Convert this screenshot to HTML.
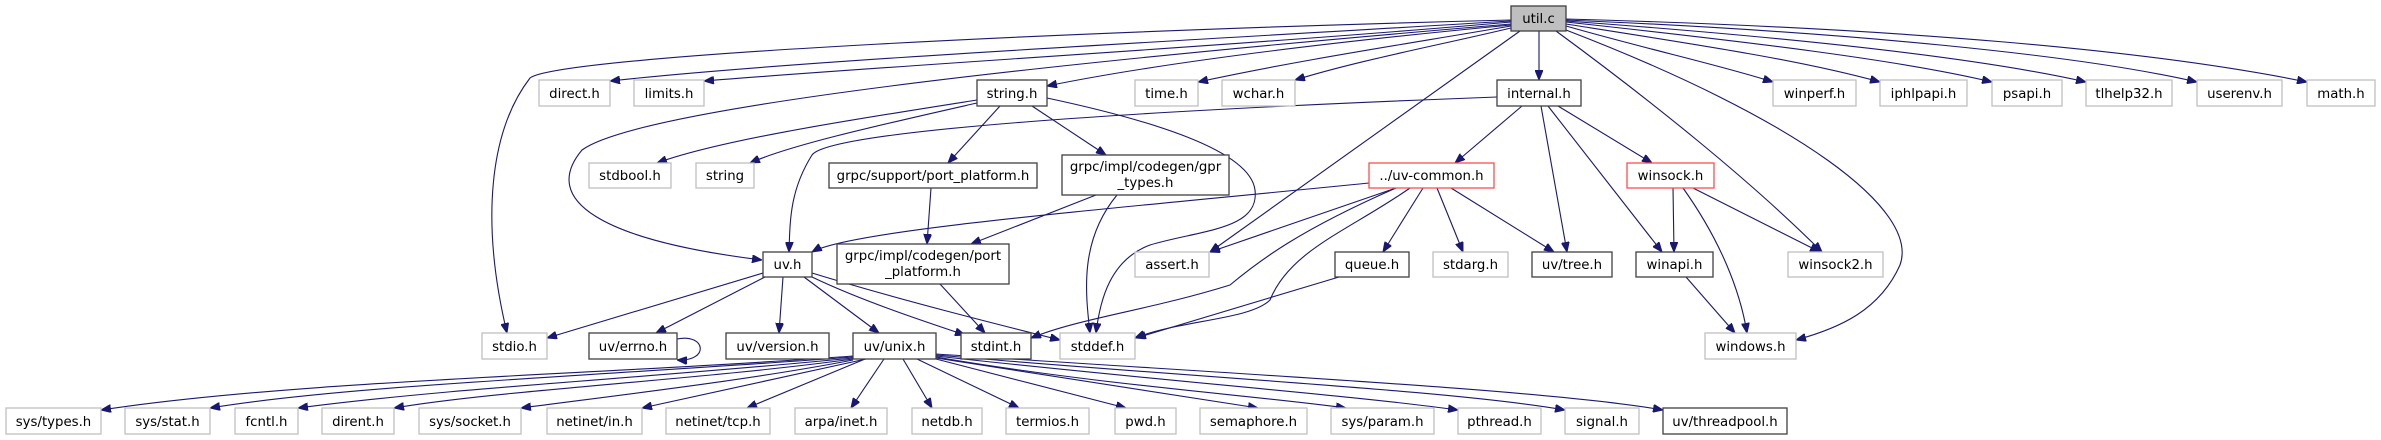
<!DOCTYPE html>
<html><head><meta charset="utf-8"><style>
html,body{margin:0;padding:0;background:#fff;}
svg{display:block;}
text{font-family:"DejaVu Sans","Liberation Sans",sans-serif;font-size:13.3px;fill:#000;text-anchor:middle;}
.g{fill:#fff;stroke:#bfbfbf;stroke-width:1.3;}
.b{fill:#fff;stroke:#404040;stroke-width:1.3;}
.r{fill:#fff;stroke:#ff4d4d;stroke-width:1.3;}
.u{fill:#bfbfbf;stroke:#404040;stroke-width:1.3;}
path{fill:none;stroke:#191970;stroke-width:1.1;}
</style></head><body>
<svg width="2381" height="440" viewBox="0 0 2381 440" xmlns="http://www.w3.org/2000/svg">
<defs><marker id="a" viewBox="0 0 10 8" refX="10" refY="4" markerWidth="10" markerHeight="8" markerUnits="userSpaceOnUse" orient="auto"><path d="M0,0 L10,4 L0,8 Z" style="fill:#191970;stroke:#191970;stroke-width:1"/></marker></defs>
<g marker-end="url(#a)">
<path d="M1511,20 C1100,30 560,55 530,78 C490,130 480,220 507,333"/>
<path d="M1511,21 C1200,40 800,60 610,81"/>
<path d="M1511,22 C1250,45 900,65 704,81"/>
<path d="M1511,24 C1200,50 650,100 582,150 C540,200 600,240 762,260"/>
<path d="M1511,25 C1300,45 1150,65 1047,86"/>
<path d="M1511,26 C1400,45 1300,60 1198,82"/>
<path d="M1511,28 C1440,45 1360,60 1295,80"/>
<path d="M1539,31 L1539,80"/>
<path d="M1520,31 L1210,252"/>
<path d="M1556,31 C1650,100 1750,180 1822,252"/>
<path d="M1566,30 C1800,120 1920,210 1900,265 C1880,310 1840,328 1796,340"/>
<path d="M1566,26 C1650,50 1720,65 1773,82"/>
<path d="M1566,24 C1700,45 1800,60 1880,82"/>
<path d="M1566,22 C1750,42 1900,60 1992,82"/>
<path d="M1566,21 C1800,38 1980,58 2086,82"/>
<path d="M1566,20 C1850,32 2080,55 2197,82"/>
<path d="M1566,19 C1900,28 2150,50 2307,82"/>
<path d="M977,100 C850,120 720,140 657,163"/>
<path d="M977,103 C880,125 790,145 750,163"/>
<path d="M1000,106 L948,163"/>
<path d="M1032,106 L1106,155"/>
<path d="M1047,98 C1150,120 1250,150 1255,190 C1260,230 1200,230 1150,245 C1110,260 1100,300 1096,333"/>
<path d="M1497,97 C1150,110 830,130 812,155 C790,190 790,220 789,252"/>
<path d="M1522,106 L1455,163"/>
<path d="M1541,106 L1567,252"/>
<path d="M1548,106 L1662,252"/>
<path d="M1558,106 L1652,163"/>
<path d="M1369,183 C1100,210 850,230 812,252"/>
<path d="M1396,188 L1210,252"/>
<path d="M1396,188 C1300,230 1260,260 1230,285 C1150,310 1080,318 1031,338"/>
<path d="M1410,188 C1350,230 1290,250 1270,300 C1250,320 1180,320 1135,338"/>
<path d="M1423,188 L1383,252"/>
<path d="M1437,188 L1463,252"/>
<path d="M1451,188 L1554,252"/>
<path d="M931,188 L927,244"/>
<path d="M1096,195 L971,244"/>
<path d="M1117,195 C1080,240 1085,290 1090,333"/>
<path d="M940,284 L985,333"/>
<path d="M1339,277 L1136,338"/>
<path d="M763,273 L547,338"/>
<path d="M765,277 L656,333"/>
<path d="M783,277 L779,333"/>
<path d="M804,277 L879,333"/>
<path d="M812,277 C860,300 920,320 965,335"/>
<path d="M812,273 C900,300 1000,325 1060,340"/>
<path d="M677,339 C706,333 710,362 677,360"/>
<path d="M1673,188 L1674,252"/>
<path d="M1683,188 C1720,240 1740,290 1747,333"/>
<path d="M1693,188 L1820,252"/>
<path d="M1686,277 L1735,333"/>
<path d="M853,356 C600,375 300,380 101,410"/>
<path d="M853,357 C600,376 350,385 210,408"/>
<path d="M853,358 C650,378 450,388 298,408"/>
<path d="M853,359 C700,380 500,390 394,408"/>
<path d="M853,360 C750,380 620,395 521,408"/>
<path d="M866,359 L642,408"/>
<path d="M865,359 L747,408"/>
<path d="M884,359 L851,408"/>
<path d="M903,359 L932,408"/>
<path d="M917,359 L1019,408"/>
<path d="M936,359 L1126,408"/>
<path d="M936,358 L1258,408"/>
<path d="M936,357 C1100,385 1250,395 1346,408"/>
<path d="M936,356 C1150,380 1350,395 1458,410"/>
<path d="M936,355 C1200,378 1450,390 1565,410"/>
<path d="M936,354 C1250,375 1550,390 1663,410"/>
</g>
<rect class="u" x="1511" y="6" width="55" height="25"/><text x="1538.5" y="23">util.c</text>
<rect class="g" x="539" y="80" width="71" height="26"/><text x="574.5" y="98">direct.h</text>
<rect class="g" x="634" y="80" width="70" height="26"/><text x="669" y="98">limits.h</text>
<rect class="b" x="977" y="80" width="70" height="26"/><text x="1012" y="98">string.h</text>
<rect class="g" x="1135" y="80" width="63" height="26"/><text x="1166.5" y="98">time.h</text>
<rect class="g" x="1222" y="80" width="73" height="26"/><text x="1258.5" y="98">wchar.h</text>
<rect class="b" x="1497" y="80" width="84" height="26"/><text x="1539" y="98">internal.h</text>
<rect class="g" x="1773" y="80" width="83" height="26"/><text x="1814.5" y="98">winperf.h</text>
<rect class="g" x="1880" y="80" width="87" height="26"/><text x="1923.5" y="98">iphlpapi.h</text>
<rect class="g" x="1992" y="80" width="70" height="26"/><text x="2027" y="98">psapi.h</text>
<rect class="g" x="2086" y="80" width="86" height="26"/><text x="2129" y="98">tlhelp32.h</text>
<rect class="g" x="2197" y="80" width="85" height="26"/><text x="2239.5" y="98">userenv.h</text>
<rect class="g" x="2307" y="80" width="68" height="26"/><text x="2341" y="98">math.h</text>
<rect class="g" x="589" y="163" width="82" height="25"/><text x="630" y="180">stdbool.h</text>
<rect class="g" x="696" y="163" width="58" height="25"/><text x="725" y="180">string</text>
<rect class="b" x="829" y="163" width="208" height="25"/><text x="933" y="180">grpc/support/port_platform.h</text>
<rect class="b" x="1062" y="155" width="167" height="40"/><text x="1145.5" y="171">grpc/impl/codegen/gpr</text><text x="1145.5" y="187">_types.h</text>
<rect class="r" x="1369" y="163" width="125" height="25"/><text x="1431.5" y="180">../uv-common.h</text>
<rect class="r" x="1627" y="163" width="87" height="25"/><text x="1670.5" y="180">winsock.h</text>
<rect class="b" x="763" y="252" width="49" height="25"/><text x="787.5" y="269">uv.h</text>
<rect class="b" x="837" y="244" width="172" height="40"/><text x="923" y="260">grpc/impl/codegen/port</text><text x="923" y="276">_platform.h</text>
<rect class="g" x="1135" y="252" width="74" height="25"/><text x="1172" y="269">assert.h</text>
<rect class="b" x="1335" y="252" width="74" height="25"/><text x="1372" y="269">queue.h</text>
<rect class="g" x="1433" y="252" width="75" height="25"/><text x="1470.5" y="269">stdarg.h</text>
<rect class="b" x="1532" y="252" width="80" height="25"/><text x="1572" y="269">uv/tree.h</text>
<rect class="b" x="1636" y="252" width="77" height="25"/><text x="1674.5" y="269">winapi.h</text>
<rect class="g" x="1788" y="252" width="95" height="25"/><text x="1835.5" y="269">winsock2.h</text>
<rect class="g" x="482" y="333" width="65" height="26"/><text x="514.5" y="351">stdio.h</text>
<rect class="b" x="589" y="333" width="88" height="26"/><text x="633" y="351">uv/errno.h</text>
<rect class="b" x="726" y="333" width="103" height="26"/><text x="777.5" y="351">uv/version.h</text>
<rect class="b" x="853" y="333" width="83" height="26"/><text x="894.5" y="351">uv/unix.h</text>
<rect class="b" x="961" y="333" width="70" height="26"/><text x="996" y="351">stdint.h</text>
<rect class="g" x="1060" y="333" width="75" height="26"/><text x="1097.5" y="351">stddef.h</text>
<rect class="g" x="1705" y="333" width="91" height="26"/><text x="1750.5" y="351">windows.h</text>
<rect class="g" x="6" y="408" width="95" height="26"/><text x="53.5" y="426">sys/types.h</text>
<rect class="g" x="125" y="408" width="85" height="26"/><text x="167.5" y="426">sys/stat.h</text>
<rect class="g" x="235" y="408" width="63" height="26"/><text x="266.5" y="426">fcntl.h</text>
<rect class="g" x="322" y="408" width="72" height="26"/><text x="358" y="426">dirent.h</text>
<rect class="g" x="419" y="408" width="102" height="26"/><text x="470" y="426">sys/socket.h</text>
<rect class="g" x="547" y="408" width="95" height="26"/><text x="594.5" y="426">netinet/in.h</text>
<rect class="g" x="666" y="408" width="104" height="26"/><text x="718" y="426">netinet/tcp.h</text>
<rect class="g" x="795" y="408" width="92" height="26"/><text x="841" y="426">arpa/inet.h</text>
<rect class="g" x="912" y="408" width="70" height="26"/><text x="947" y="426">netdb.h</text>
<rect class="g" x="1006" y="408" width="83" height="26"/><text x="1047.5" y="426">termios.h</text>
<rect class="g" x="1115" y="408" width="61" height="26"/><text x="1145.5" y="426">pwd.h</text>
<rect class="g" x="1200" y="408" width="107" height="26"/><text x="1253.5" y="426">semaphore.h</text>
<rect class="g" x="1331" y="408" width="103" height="26"/><text x="1382.5" y="426">sys/param.h</text>
<rect class="g" x="1458" y="408" width="83" height="26"/><text x="1499.5" y="426">pthread.h</text>
<rect class="g" x="1565" y="408" width="74" height="26"/><text x="1602" y="426">signal.h</text>
<rect class="b" x="1663" y="408" width="124" height="26"/><text x="1725" y="426">uv/threadpool.h</text>
</svg>
</body></html>
